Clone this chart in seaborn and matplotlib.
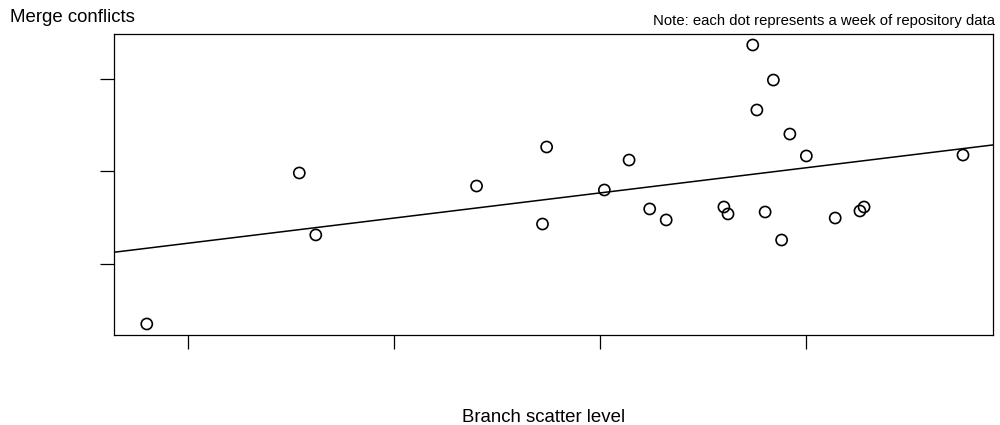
import matplotlib
matplotlib.use("Agg")
import matplotlib.pyplot as plt
import numpy as np
import pandas as pd
import seaborn as sns

# Weekly repository observations: branch scatter level vs. merge conflicts
branch_scatter = [0.80, 1.54, 1.62, 2.40, 2.72, 2.74, 3.02, 3.14, 3.24, 3.32,
                  3.60, 3.62, 3.74, 3.76, 3.80, 3.84, 3.88, 3.92, 4.00, 4.14,
                  4.26, 4.28, 4.76]
merge_conflicts = [3.51, 19.84, 13.14, 18.43, 14.32, 22.65, 18.00, 21.24, 15.95, 14.76,
                   16.16, 15.41, 33.68, 26.65, 15.62, 29.89, 12.59, 24.05, 21.68, 14.97,
                   15.73, 16.16, 21.78]
x_ticks = [1, 2, 3, 4]
y_ticks = [10, 20, 30]

df = pd.DataFrame({"scatter": branch_scatter, "conflicts": merge_conflicts})

sns.set_theme(style="white")
plt.rcParams["font.family"] = ["Liberation Sans", "DejaVu Sans"]

fig = plt.figure(figsize=(10, 4.25), dpi=100)
ax = fig.add_axes([0.114, 0.2118, 0.8795, 0.708])

xlim = (0.641, 4.908)
ylim = (2.32, 34.86)
ax.set_xlim(*xlim)
ax.set_ylim(*ylim)

sns.regplot(data=df, x="scatter", y="conflicts", ax=ax, ci=None, truncate=False,
            marker="o",
            scatter_kws=dict(facecolors="none", edgecolors="black", s=64,
                             linewidths=1.2, alpha=1),
            line_kws=dict(color="black", lw=1.1))

ax.set_xlim(*xlim)
ax.set_ylim(*ylim)
ax.set_xticks(x_ticks)
ax.set_yticks(y_ticks)
ax.set_xticklabels([])
ax.set_yticklabels([])
ax.tick_params(axis="both", which="both", direction="out", length=10, width=0.9,
               color="black", bottom=True, left=True, top=False, right=False)
for sp in ax.spines.values():
    sp.set_color("black")
    sp.set_linewidth(0.9)
    sp.set_visible(True)
ax.set_xlabel("")
ax.set_ylabel("")
ax.grid(False)

fig.text(0.010, 1 - 21.7 / 425, "Merge conflicts", ha="left", va="baseline",
         fontsize=13.4, color="black")
fig.text(0.995, 1 - 25 / 425, "Note: each dot represents a week of repository data",
         ha="right", va="baseline", fontsize=10.7, color="black")
fig.text(0.544, 1 - 422.3 / 425, "Branch scatter level", ha="center", va="baseline",
         fontsize=13.4, color="black")

fig.savefig("out.png", dpi=100, facecolor="white")
